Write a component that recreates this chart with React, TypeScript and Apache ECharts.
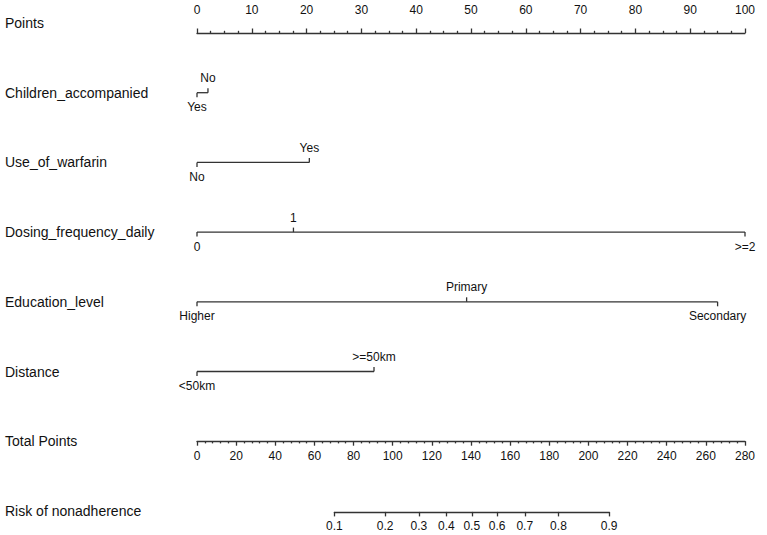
import React, { useEffect, useRef } from "react";
import * as echarts from "echarts";

// ---------- data ----------
const rowNames = [
  "Points",
  "Children_accompanied",
  "Use_of_warfarin",
  "Dosing_frequency_daily",
  "Education_level",
  "Distance",
  "Total Points",
  "Risk of nonadherence",
];

const childrenLevels = ["Yes", "No"];
const childrenPoints = [0, 2];
const warfarinLevels = ["No", "Yes"];
const warfarinPoints = [0, 20.5];
const dosingLevels = ["0", "1", ">=2"];
const dosingPoints = [0, 17.6, 100];
const educationLevels = ["Higher", "Primary", "Secondary"];
const educationPoints = [0, 49.2, 95];
const distanceLevels = ["<50km", ">=50km"];
const distancePoints = [0, 32.3];

const pointsMin = 0;
const pointsMax = 100;
const pointsStep = 10;
const totalMin = 0;
const totalMax = 280;
const totalStep = 20;
const riskValues = [0.1, 0.2, 0.3, 0.4, 0.5, 0.6, 0.7, 0.8, 0.9];
const riskCentre = 140.4; // total points where risk = 0.5
const riskSlope = 0.0313; // logit change per total point

// ---------- layout ----------
const W = 767;
const H = 535;
const LEFT = 197;
const RIGHT = 22;
const ROW0 = 23;
const ROWGAP = 69.7;
const LINE = "#333333";
const TEXT = "#111111";
const FONT = '"Liberation Sans", Arial, sans-serif';

const rowY = (i: number) => ROW0 + i * ROWGAP;

const variables = [
  { levels: childrenLevels, points: childrenPoints },
  { levels: warfarinLevels, points: warfarinPoints },
  { levels: dosingLevels, points: dosingPoints },
  { levels: educationLevels, points: educationPoints },
  { levels: distanceLevels, points: distancePoints },
];

const riskTp = riskValues.map(
  (p) => riskCentre + Math.log(p / (1 - p)) / riskSlope
);

export default function App() {
  const ref = useRef<HTMLDivElement>(null);

  useEffect(() => {
    if (!ref.current) return;
    const chart = echarts.init(ref.current, undefined, { renderer: "svg" });
    const plotW = W - LEFT - RIGHT;
    const tpToPx = (tp: number) =>
      LEFT + (plotW * (tp - totalMin)) / (totalMax - totalMin);
    const riskLeft = tpToPx(riskTp[0]);
    const riskRight = W - tpToPx(riskTp[riskTp.length - 1]);

    const axisLine = { lineStyle: { color: LINE, width: 1.3 } };
    const tickStyle = { color: LINE, width: 1.3 };
    const labelStyle = { color: TEXT, fontSize: 12, fontFamily: FONT };

    const option: any = {
      animation: false,
      backgroundColor: "#ffffff",
      textStyle: { fontFamily: FONT },
      grid: [
        { left: LEFT, right: RIGHT, top: rowY(0), height: 10 },
        { left: LEFT, right: RIGHT, top: 0, bottom: 0 },
        { left: LEFT, right: RIGHT, top: rowY(6) - 10, height: 10 },
        { left: riskLeft, right: riskRight, top: rowY(7) + 1 - 10, height: 10 },
      ],
      xAxis: [
        {
          gridIndex: 0,
          type: "value",
          position: "top",
          min: pointsMin,
          max: pointsMax,
          interval: pointsStep,
          axisLine,
          axisTick: { length: 4.5, lineStyle: tickStyle },
          minorTick: { show: true, splitNumber: 4, length: 2.2, lineStyle: tickStyle },
          axisLabel: { ...labelStyle, margin: 7 },
          splitLine: { show: false },
        },
        {
          gridIndex: 1,
          type: "value",
          min: pointsMin,
          max: pointsMax,
          show: false,
        },
        {
          gridIndex: 2,
          type: "value",
          position: "bottom",
          min: totalMin,
          max: totalMax,
          interval: totalStep,
          axisLine,
          axisTick: { length: 4.5, lineStyle: tickStyle },
          minorTick: { show: true, splitNumber: 5, length: 2.2, lineStyle: tickStyle },
          axisLabel: { ...labelStyle, margin: 9 },
          splitLine: { show: false },
        },
        {
          gridIndex: 3,
          type: "value",
          position: "bottom",
          min: riskTp[0],
          max: riskTp[riskTp.length - 1],
          axisLine,
          axisTick: { length: 4.5, lineStyle: tickStyle, customValues: riskTp },
          axisLabel: {
            ...labelStyle,
            margin: 8,
            customValues: riskTp,
            showMinLabel: true,
            showMaxLabel: true,
            formatter: (v: number) => {
              let best = 0;
              riskTp.forEach((t, i) => {
                if (Math.abs(t - v) < Math.abs(riskTp[best] - v)) best = i;
              });
              return riskValues[best].toFixed(1);
            },
          },
          splitLine: { show: false },
        },
      ],
      yAxis: [
        { gridIndex: 0, type: "value", show: false },
        { gridIndex: 1, type: "value", show: false, min: 0, max: H, inverse: true },
        { gridIndex: 2, type: "value", show: false },
        { gridIndex: 3, type: "value", show: false },
      ],
      graphic: rowNames.map((name, i) => ({
        type: "text",
        x: 5,
        y: rowY(i),
        style: {
          text: name,
          fill: TEXT,
          font: `14px ${FONT}`,
          verticalAlign: "middle",
          align: "left",
        },
      })),
      series: [
        {
          type: "custom",
          xAxisIndex: 1,
          yAxisIndex: 1,
          clip: false,
          data: variables.map((v, i) => [v.points[0], rowY(i + 1)]),
          renderItem: (params: any, api: any) => {
            const v = variables[params.dataIndex];
            const y = api.value(1) as number;
            const children: any[] = [];
            const p0 = api.coord([Math.min(...v.points), y]);
            const p1 = api.coord([Math.max(...v.points), y]);
            children.push({
              type: "line",
              shape: { x1: p0[0], y1: p0[1], x2: p1[0], y2: p1[1] },
              style: { stroke: LINE, lineWidth: 1.3 },
            });
            v.points.forEach((pt, j) => {
              const c = api.coord([pt, y]);
              const dir = j % 2 === 0 ? 1 : -1;
              children.push({
                type: "line",
                shape: { x1: c[0], y1: c[1], x2: c[0], y2: c[1] + dir * 4.5 },
                style: { stroke: LINE, lineWidth: 1.3 },
              });
              children.push({
                type: "text",
                x: c[0],
                y: c[1] + dir * 14.5,
                style: {
                  text: v.levels[j],
                  fill: TEXT,
                  font: `12px ${FONT}`,
                  align: "center",
                  verticalAlign: "middle",
                },
              });
            });
            return { type: "group", children };
          },
        },
      ],
    };
    chart.setOption(option);
    return () => chart.dispose();
  }, []);

  return (
    <div
      ref={ref}
      style={{ position: "fixed", left: 0, top: 0, width: W, height: H, background: "#fff" }}
    />
  );
}
